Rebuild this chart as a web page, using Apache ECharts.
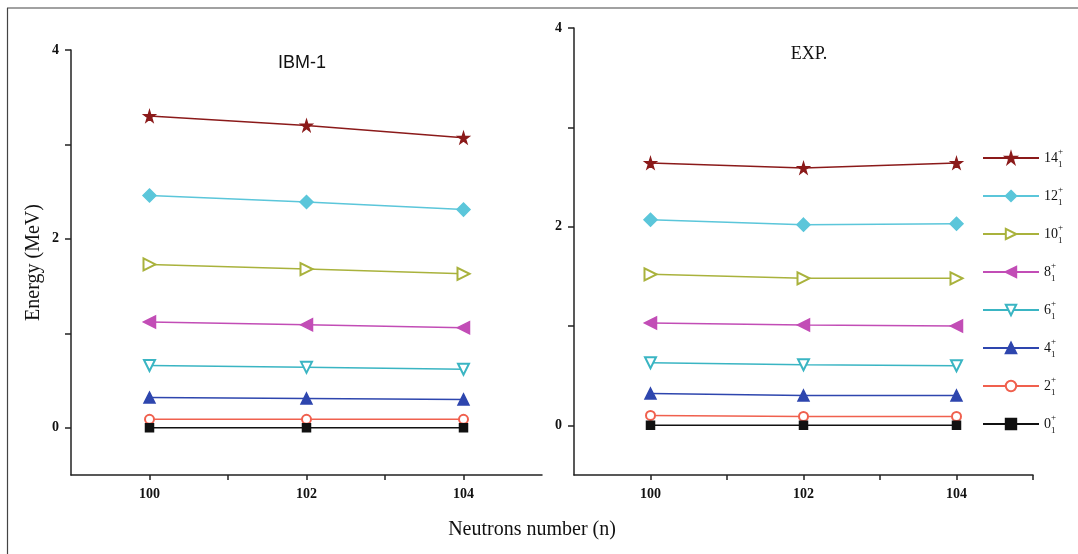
<!DOCTYPE html>
<html>
<head>
<meta charset="utf-8">
<script src="https://cdn.jsdelivr.net/npm/echarts@6/dist/echarts.min.js"></script>
<style>
  html, body { margin: 0; padding: 0; background: #fff; }
  #chart { width: 1078px; height: 554px; }
</style>
</head>
<body>
<div id="chart"></div>
<script>
// neutron numbers on the x axis
const neutrons = [100, 102, 104];
// spin of each band (legend shows them as J+ with subscript 1)
const spins = ['14', '12', '10', '8', '6', '4', '2', '0'];

// IBM-1 energies (MeV), one array per state, in neutron order
const ibm14 = [3.30, 3.20, 3.07];
const ibm12 = [2.46, 2.39, 2.31];
const ibm10 = [1.73, 1.68, 1.63];
const ibm8 = [1.12, 1.09, 1.06];
const ibm6 = [0.66, 0.64, 0.62];
const ibm4 = [0.32, 0.31, 0.30];
const ibm2 = [0.09, 0.09, 0.09];
const ibm0 = [0, 0, 0];

// experimental energies (MeV)
const exp14 = [2.64, 2.59, 2.64];
const exp12 = [2.07, 2.02, 2.03];
const exp10 = [1.52, 1.48, 1.48];
const exp8 = [1.03, 1.01, 1.00];
const exp6 = [0.63, 0.61, 0.60];
const exp4 = [0.32, 0.30, 0.30];
const exp2 = [0.10, 0.09, 0.09];
const exp0 = [0, 0, 0];

// ticks and labels
const xTicksLeft = [100, 101, 102, 103, 104];
const xTicksRight = [100, 101, 102, 103, 104, 105];
const xLabels = [100, 102, 104];
const yTicks = [0, 1, 2, 3, 4];
const yLabels = [0, 2, 4];

const ibmData = [ibm14, ibm12, ibm10, ibm8, ibm6, ibm4, ibm2, ibm0];
const expData = [exp14, exp12, exp10, exp8, exp6, exp4, exp2, exp0];

const STAR = 'path://M50,0 L61,35 L98,35 L68,57 L79,91 L50,70 L21,91 L32,57 L2,35 L39,35 Z';

// per-state look: colour, symbol, size, rotation
const looks = [
  { color: '#8B1A1A', symbol: STAR, size: 11, rotate: 0 },
  { color: '#5BC6DA', symbol: 'diamond', size: 13, rotate: 0 },
  { color: '#A9B23C', symbol: 'emptyTriangle', size: 12, rotate: -90 },
  { color: '#C24DB6', symbol: 'triangle', size: 12, rotate: 90 },
  { color: '#3AB5C3', symbol: 'emptyTriangle', size: 11, rotate: 180 },
  { color: '#2E46AE', symbol: 'triangle', size: 11, rotate: 0 },
  { color: '#F0604E', symbol: 'emptyCircle', size: 9, rotate: 0 },
  { color: '#111111', symbol: 'rect', size: 8, rotate: 0 }
];

const serif = '"Liberation Serif", "DejaVu Serif", serif';

function makeSeries(values, idx, look, name) {
  return {
    name: name,
    type: 'line',
    xAxisIndex: idx,
    yAxisIndex: idx,
    data: neutrons.map((n, i) => [n, values[i]]),
    symbol: look.symbol,
    symbolSize: look.size,
    symbolRotate: look.rotate,
    showAllSymbol: true,
    color: look.color,
    lineStyle: { color: look.color, width: 1.5 },
    itemStyle: { color: look.color, borderColor: look.color, borderWidth: 1.5 },
    emphasis: { disabled: true },
    animation: false
  };
}

const series = [];
spins.forEach((s, i) => {
  series.push(makeSeries(ibmData[i], 0, looks[i], s));
  series.push(makeSeries(expData[i], 1, looks[i], s));
});

function xAxis(gridIndex, ticks) {
  return {
    type: 'value',
    gridIndex: gridIndex,
    min: 99,
    max: 105,
    splitLine: { show: false },
    axisLine: { onZero: false, lineStyle: { color: '#222', width: 1.5 } },
    axisTick: { show: true, length: 5, customValues: ticks, lineStyle: { color: '#222', width: 1.5 } },
    axisLabel: {
      customValues: xLabels, margin: 12,
      fontFamily: serif, fontWeight: 'bold', fontSize: 14, color: '#111'
    }
  };
}

function yAxis(gridIndex, withName) {
  const ax = {
    type: 'value',
    gridIndex: gridIndex,
    min: -0.5,
    max: 4,
    splitLine: { show: false },
    axisLine: { onZero: false, lineStyle: { color: '#222', width: 1.5 } },
    axisTick: { show: true, length: 6, customValues: yTicks, lineStyle: { color: '#222', width: 1.5 } },
    axisLabel: {
      customValues: yLabels, margin: 12,
      fontFamily: serif, fontWeight: 'bold', fontSize: 14, color: '#111'
    }
  };
  if (withName) {
    ax.name = 'Energy (MeV)';
    ax.nameLocation = 'middle';
    ax.nameGap = 27;
    ax.nameTextStyle = { fontFamily: serif, fontSize: 20, color: '#111' };
  }
  return ax;
}

const option = {
  backgroundColor: '#fff',
  animation: false,
  title: [
    { text: 'IBM-1', left: 302, top: 54, textAlign: 'center', padding: 0,
      textStyle: { fontFamily: '"Liberation Sans", Arial, sans-serif', fontWeight: 'normal', fontSize: 18, color: '#111' } },
    { text: 'EXP.', left: 809, top: 45, textAlign: 'center', padding: 0,
      textStyle: { fontFamily: serif, fontWeight: 'normal', fontSize: 18, color: '#111' } },
    { text: 'Neutrons number (n)', left: 532, top: 520, textAlign: 'center', padding: 0,
      textStyle: { fontFamily: serif, fontWeight: 'normal', fontSize: 20, color: '#111' } }
  ],
  legend: {
    orient: 'vertical',
    left: 977,
    top: 142,
    itemWidth: 56,
    itemHeight: 13,
    itemGap: 16,
    data: spins,
    formatter: name => '{n|' + name + '}{p|+}{s|1}',
    textStyle: {
      fontFamily: serif,
      color: '#111',
      rich: {
        n: { fontFamily: serif, fontSize: 14, color: '#111', lineHeight: 22 },
        p: { fontFamily: serif, fontSize: 9, color: '#111', verticalAlign: 'top', width: 0, lineHeight: 22 },
        s: { fontFamily: serif, fontSize: 9, color: '#111', verticalAlign: 'bottom', lineHeight: 22 }
      }
    }
  },
  grid: [
    { left: 71, top: 50, width: 471, height: 425 },
    { left: 574, top: 28, width: 459, height: 447 }
  ],
  xAxis: [xAxis(0, xTicksLeft), xAxis(1, xTicksRight)],
  yAxis: [yAxis(0, true), yAxis(1, false)],
  graphic: [
    { type: 'line', shape: { x1: 7, y1: 8, x2: 1078, y2: 8 }, style: { stroke: '#444', lineWidth: 1.2 } },
    { type: 'line', shape: { x1: 7.5, y1: 8, x2: 7.5, y2: 554 }, style: { stroke: '#444', lineWidth: 1.2 } }
  ],
  series: series
};

const chart = echarts.init(document.getElementById('chart'), null, { renderer: 'canvas' });
chart.setOption(option);
</script>
</body>
</html>
